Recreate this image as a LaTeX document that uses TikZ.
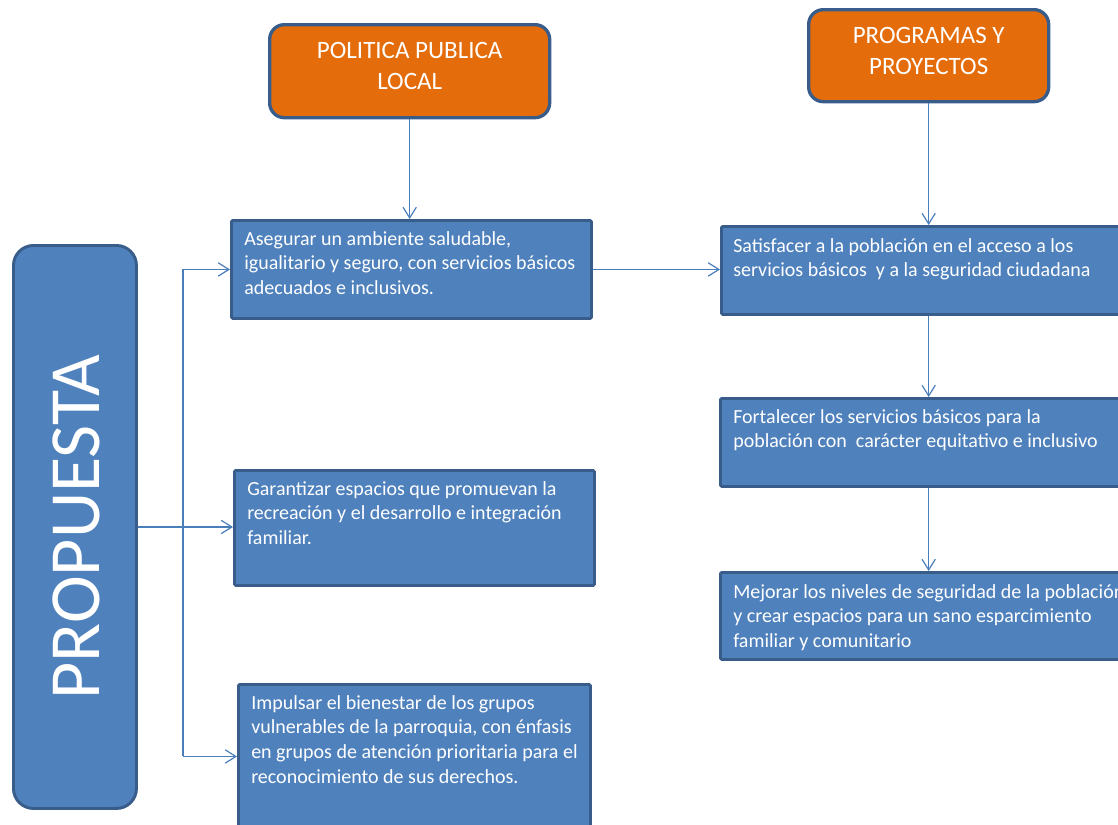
\documentclass[tikz,border=0pt]{standalone}
\usepackage{fontspec}
\setmainfont{Carlito}
\usepackage{tikz}
\usetikzlibrary{arrows.meta}
\definecolor{boxBlue}{HTML}{4F81BD}
\definecolor{boxEdge}{HTML}{385D8A}
\definecolor{headOrange}{HTML}{E46C0A}
\definecolor{lineBlue}{HTML}{4A7EBB}

\begin{document}
\begin{tikzpicture}[
    x=0.75pt, y=-0.75pt,
    propbox/.style = {draw=boxEdge, fill=boxBlue, line width=2.2pt, rounded corners=15pt, anchor=north west, inner sep=0pt},
    headbox/.style = {draw=boxEdge, fill=headOrange, line width=2.5pt, rounded corners=11pt, anchor=north west, inner sep=0pt},
    headtxt/.style = {align=center, inner sep=0pt, text=white, font=\fontsize{18.75}{23.25}\selectfont},
    goalbox/.style = {draw=boxEdge, fill=boxBlue, line width=2.2pt, rounded corners=1pt, anchor=north west, inner sep=0pt},
    goaltxt/.style = {anchor=north west, align=left, inner sep=0pt, text=white, font=\fontsize{15}{18.5}\selectfont},
    proptxt/.style = {rotate=90, inner sep=0pt, text=white, font=\fontsize{54}{60}\selectfont},
    stem/.style    = {draw=lineBlue, line width=0.9pt},
    conn/.style    = {stem, -{Straight Barb[length=8pt,width=10pt]}}
  ]
  \useasboundingbox (0,0) rectangle (1118,825);

  % left column
  \node[propbox, minimum width=92.25pt, minimum height=422.25pt] (prop) at (12,244) {};
  \node[proptxt] (proplbl) at ([xshift=1pt]prop.center) {PROPUESTA};

  \node[headbox, minimum width=210pt, minimum height=69.75pt] (ppl) at (268,23) {};
  \node[headtxt] (pplt) at ([yshift=4pt]ppl.center) {POLITICA PUBLICA\\LOCAL};
  \node[headbox, minimum width=180pt, minimum height=69pt] (pp) at (807,8) {};
  \node[headtxt] (ppt) at ([yshift=3.5pt]pp.center) {PROGRAMAS Y\\PROYECTOS};

  \node[goalbox, minimum width=270pt, minimum height=73.5pt] (a1) at (230,219) {};
  \node[goaltxt] (a1t) at (244,231) {Asegurar un ambiente saludable,\\igualitario y seguro, con servicios básicos\\adecuados e inclusivos.};
  \node[goalbox, minimum width=270pt, minimum height=86.25pt] (a2) at (233,469) {};
  \node[goaltxt] (a2t) at (247,481) {Garantizar espacios que promuevan la\\recreación y el desarrollo e integración\\familiar.};
  \node[goalbox, minimum width=264pt, minimum height=108pt] (a3) at (237,683) {};
  \node[goaltxt] (a3t) at (251,695) {Impulsar el bienestar de los grupos\\vulnerables de la parroquia, con énfasis\\en grupos de atención prioritaria para el\\reconocimiento de sus derechos.};

  % right column
  \node[goalbox, minimum width=311.25pt, minimum height=66pt] (b1) at (720,225) {};
  \node[goaltxt] (b1t) at (733,238) {Satisfacer a la población en el acceso a los\\servicios básicos \ y a la seguridad ciudadana};
  \node[goalbox, minimum width=312pt, minimum height=66pt] (b2) at (719,397) {};
  \node[goaltxt] (b2t) at (733,409) {Fortalecer los servicios básicos para la\\población con \ carácter equitativo e inclusivo};
  \node[goalbox, minimum width=312pt, minimum height=65.25pt] (b3) at (719,571) {};
  \node[goaltxt] (b3t) at (733,584) {Mejorar los niveles de seguridad de la población\\y crear espacios para un sano esparcimiento\\familiar y comunitario};

  \coordinate (split) at (183,525);
  \draw[stem] (split |- a1.west) -- (split |- a3.west);
  \draw[conn] (split |- a1.west) -- (a1.west);
  \draw[conn] (prop.east) -- (prop.east -| a2.west);
  \draw[conn] (split |- a3.west) -- (a3.west);

  \draw[conn] (ppl.south) -- (ppl.south |- a1.north);
  \draw[conn] (pp.south) -- (pp.south |- b1.north);
  \draw[conn] (a1.east) -- (a1.east -| b1.west);
  \draw[conn] (pp.south |- b1.south) -- (pp.south |- b2.north);
  \draw[conn] (pp.south |- b2.south) -- (pp.south |- b3.north);
\end{tikzpicture}
\end{document}
